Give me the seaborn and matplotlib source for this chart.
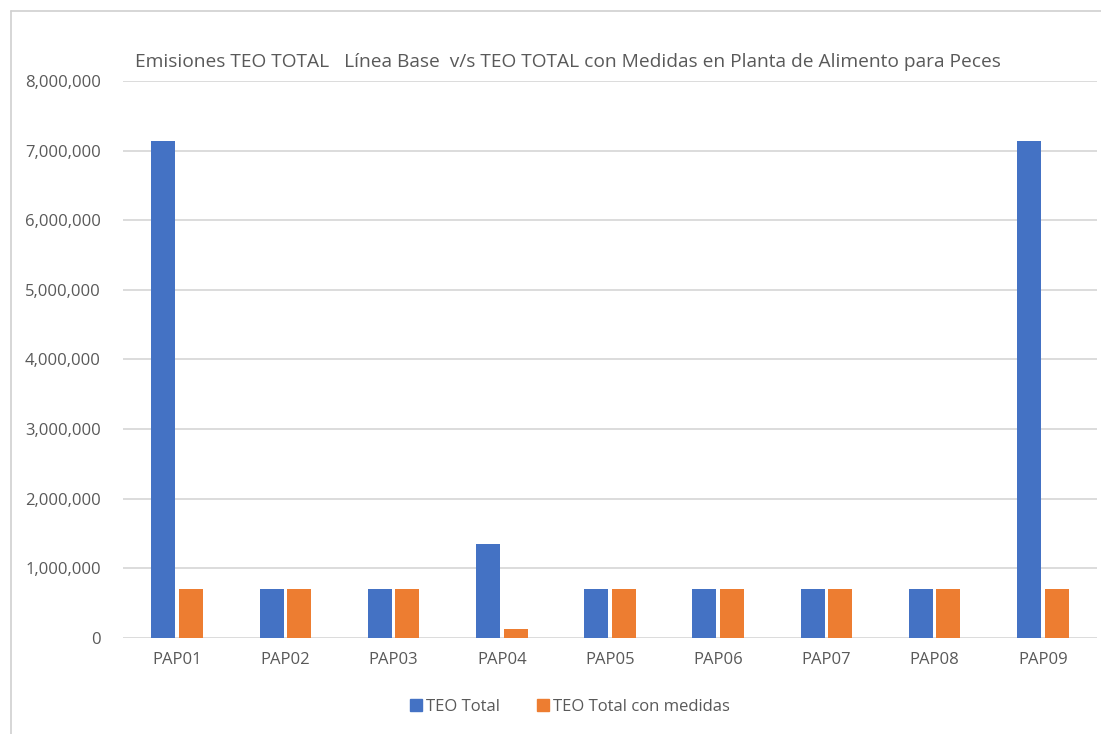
import pandas as pd
import seaborn as sns
import matplotlib.pyplot as plt
from matplotlib.lines import Line2D
from matplotlib.ticker import FuncFormatter

# data
plantas = ['PAP01', 'PAP02', 'PAP03', 'PAP04', 'PAP05', 'PAP06', 'PAP07', 'PAP08', 'PAP09']
teo_total = [7140000, 710000, 710000, 1346000, 710000, 710000, 710000, 710000, 7140000]
teo_medidas = [708000, 708000, 708000, 130000, 708000, 708000, 708000, 708000, 708000]
series = ['TEO Total', 'TEO Total con medidas']

df = pd.DataFrame({'Planta': plantas * 2,
                   'Serie': [series[0]] * len(plantas) + [series[1]] * len(plantas),
                   'Valor': teo_total + teo_medidas})

sns.set_style('white')
plt.rcParams['font.family'] = ['Open Sans', 'DejaVu Sans']
gris = '#595959'
colores = ['#4472C4', '#ED7D31']

fig = plt.figure(figsize=(11.01, 7.34), dpi=100)
ax = fig.add_axes([123 / 1101, 1 - 638 / 734, (1097 - 123) / 1101, (638 - 81) / 734])

sns.barplot(data=df, x='Planta', y='Valor', hue='Serie', order=plantas, hue_order=series,
            palette=colores, saturation=1, width=0.51, gap=0.13, linewidth=0,
            ax=ax, legend=False)

ax.set_ylim(0, 8000000)
ax.set_yticks(range(0, 8000001, 1000000))
ax.yaxis.set_major_formatter(FuncFormatter(lambda v, p: f'{int(v):,}'))
ax.grid(axis='y', color='#D9D9D9', linewidth=1.3)
ax.set_axisbelow(True)
for s in ax.spines.values():
    s.set_visible(False)
ax.tick_params(axis='both', length=0, labelsize=12, colors=gris, pad=10)
ax.tick_params(axis='y', pad=16)
ax.set_xlabel('')
ax.set_ylabel('')

fig.text(135 / 1101, 1 - 62 / 734,
         'Emisiones TEO TOTAL   Línea Base  v/s TEO TOTAL con Medidas en Planta de Alimento para Peces',
         fontsize=13.8, color=gris, ha='left', va='center')

handles = [Line2D([], [], marker='s', linestyle='none', markersize=9, color=c) for c in colores]
fig.legend(handles, series, loc='center', bbox_to_anchor=(0.516, 1 - 707 / 734), ncol=2,
           frameon=False, fontsize=12, labelcolor=gris, handletextpad=0.0,
           handlelength=1.2, columnspacing=2.0)

# chart area frame
fig.add_artist(Line2D([10.5 / 1101, 10.5 / 1101], [0, 1 - 10.5 / 734], color='#D0D0D0', lw=1.2))
fig.add_artist(Line2D([10.5 / 1101, 1], [1 - 10.5 / 734, 1 - 10.5 / 734], color='#D0D0D0', lw=1.2))

fig.savefig('out.png', dpi=100)
